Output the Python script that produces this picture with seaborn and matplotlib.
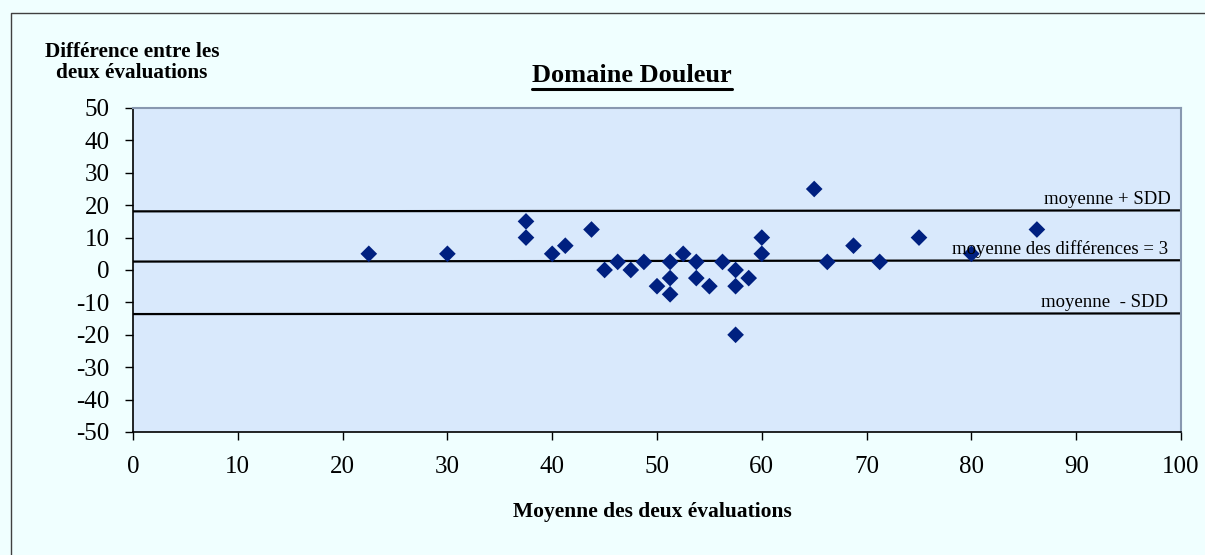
import numpy as np
import pandas as pd
import seaborn as sns
import matplotlib.pyplot as plt
from matplotlib.lines import Line2D

# data
moyenne = [22.5, 30, 37.5, 37.5, 40, 41.25, 43.75, 45, 46.25, 47.5, 48.75, 50,
           51.25, 51.25, 51.25, 52.5, 53.75, 53.75, 55, 56.25, 57.5, 57.5, 57.5,
           58.75, 60, 60, 65, 66.25, 68.75, 71.25, 75, 80, 86.25]
difference = [5, 5, 15, 10, 5, 7.5, 12.5, 0, 2.5, 0, 2.5, -5,
              2.5, -2.5, -7.5, 5, 2.5, -2.5, -5, 2.5, 0, -5, -20,
              -2.5, 10, 5, 25, 2.5, 7.5, 2.5, 10, 5, 12.5]
line_x = [0, 100]
sup_sdd = [18.1, 18.4]
moy_diff = [2.6, 3.0]
inf_sdd = [-13.6, -13.4]

xticks = list(range(0, 101, 10))
yticks = list(range(-50, 51, 10))

df = pd.DataFrame({'moyenne': moyenne, 'difference': difference})

sns.set_style('white')
plt.rcParams['font.family'] = ['Liberation Serif', 'DejaVu Serif']
plt.rcParams['axes.unicode_minus'] = False
plt.rcParams['text.color'] = 'black'

fig = plt.figure(figsize=(12.05, 5.55), dpi=100, facecolor='#F0FFFF')
ax = fig.add_axes([133/1205, 1-432/555, 1048/1205, 324/555])
ax.set_facecolor('#D9E9FC')

for yy in [sup_sdd, moy_diff, inf_sdd]:
    ax.plot(line_x, yy, color='black', lw=1.6, zorder=2)

sns.scatterplot(data=df, x='moyenne', y='difference', marker='D', s=72,
                color='#002080', edgecolor='none', ax=ax, zorder=3)

ax.text(99, 19.0, 'moyenne + SDD', ha='right', va='bottom', fontsize=13.5)
ax.text(98.8, 3.6, 'moyenne des différences = 3', ha='right', va='bottom', fontsize=13.5)
ax.text(98.8, -12.8, 'moyenne  - SDD', ha='right', va='bottom', fontsize=13.5)

ax.set_xlim(0, 100)
ax.set_ylim(-50, 50)
ax.set_xticks(xticks)
ax.set_yticks(yticks)
ax.tick_params(axis='both', direction='out', length=6, width=1, pad=11,
               labelsize=18, colors='black', left=True, bottom=True)
ax.set_xlabel('')
ax.set_ylabel('')
for s in ['left', 'bottom']:
    ax.spines[s].set_color('black')
    ax.spines[s].set_linewidth(1.2)
for s in ['top', 'right']:
    ax.spines[s].set_color('#8898B0')
    ax.spines[s].set_linewidth(1.5)

fig.text(652/1205, 1-517/555, 'Moyenne des deux évaluations', ha='center',
         va='baseline', fontsize=15.5, fontweight='bold')
fig.text(132/1205, 1-42/555, 'Différence entre les\ndeux évaluations', ha='center',
         va='top', fontsize=15.3, fontweight='bold', linespacing=1.1)
title = fig.text(632/1205, 1-82/555, 'Domaine Douleur', ha='center', va='baseline',
                 fontsize=19, fontweight='bold')

# underline the title
fig.canvas.draw()
bb = title.get_window_extent().transformed(fig.transFigure.inverted())
uy = 1-88.5/555
fig.add_artist(Line2D([bb.x0, bb.x1], [uy, uy], color='black', lw=2.2,
                      transform=fig.transFigure))

# outer border of the chart area
fig.add_artist(Line2D([10.5/1205, 10.5/1205, 1.0], [0, 1-12.5/555, 1-12.5/555],
                      color='#404040', lw=1, transform=fig.transFigure))

fig.savefig('out.png', dpi=100, facecolor=fig.get_facecolor())
